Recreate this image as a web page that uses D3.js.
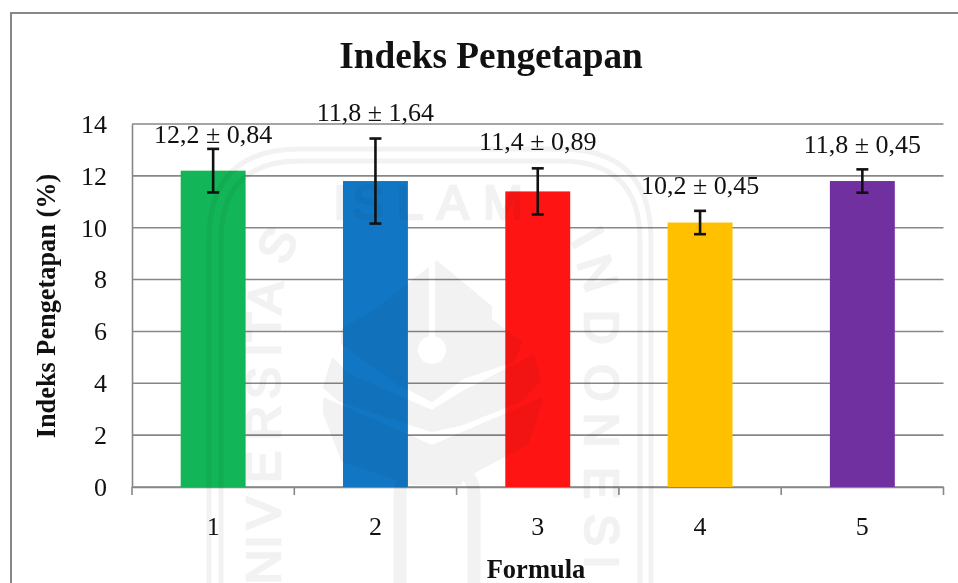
<!DOCTYPE html>
<html>
<head>
<meta charset="utf-8">
<script src="https://cdn.jsdelivr.net/npm/d3@7"></script>
<style>
    html, body { margin: 0; padding: 0; background: #fff; }
    svg { display: block; }
    text { font-family: "Liberation Serif", serif; fill: #111; }
</style>
</head>
<body>
<div id="chart"></div>
<script>
    const categories = ["1", "2", "3", "4", "5"]
    const values = [12.2, 11.8, 11.4, 10.2, 11.8]
    const errors = [0.84, 1.64, 0.89, 0.45, 0.45]
    const barLabels = ["12,2 ± 0,84", "11,8 ± 1,64", "11,4 ± 0,89", "10,2 ± 0,45", "11,8 ± 0,45"]
    const barColors = ["#12b557", "#1177c4", "#ff1414", "#ffc000", "#7030a0"]
    const yTicks = [0, 2, 4, 6, 8, 10, 12, 14]

    // Create SVG
    const outerWidth = 958
    const outerHeight = 583
    const margin = {top: 124, bottom: 96, left: 132, right: 14.5}
    const width = outerWidth - margin.left - margin.right
    const height = outerHeight - margin.top - margin.bottom
    const lineColor = "#878787"

    const svg = d3.select("#chart")
        .append("svg")
        .attr("width", outerWidth)
        .attr("height", outerHeight)

    // Outer frame, only top and left are in the picture
    svg.append("path")
        .attr("d", `M11,${outerHeight}V13H${outerWidth}`)
        .attr("fill", "none")
        .attr("stroke", lineColor)
        .attr("stroke-width", 2)

    const g = svg.append("g")
        .attr("transform", `translate(${margin.left}, ${margin.top})`)

    // Scales
    const x = d3.scaleBand()
        .domain(categories)
        .range([0, width])
        .paddingInner(0.6)
        .paddingOuter(0.3)

    const y = d3.scaleLinear()
        .domain([0, 14])
        .range([height, 0])

    // Gridlines
    g.selectAll(".grid")
        .data(yTicks)
        .enter()
        .append("line")
        .attr("class", "grid")
        .attr("x1", 0)
        .attr("x2", width)
        .attr("y1", d => y(d))
        .attr("y2", d => y(d))
        .attr("stroke", lineColor)
        .attr("stroke-width", 1.6)

    // Y axis
    const yAxis = g.append("g")
        .call(d3.axisLeft(y).tickValues(yTicks).tickSize(0).tickPadding(25))
    yAxis.select(".domain").attr("stroke", lineColor).attr("stroke-width", 1.6)
    yAxis.selectAll("text").attr("font-size", 26).attr("font-family", "Liberation Serif").attr("dy", "0.32em")

    // X axis, ticks sit between the categories
    const xAxis = g.append("g")
        .attr("transform", `translate(0, ${height})`)
        .call(d3.axisBottom(x).tickSize(0).tickPadding(30))
    xAxis.select(".domain").attr("stroke", lineColor).attr("stroke-width", 1.6)
    xAxis.selectAll("text").attr("font-size", 26).attr("font-family", "Liberation Serif")

    g.selectAll(".sep")
        .data(d3.range(categories.length + 1))
        .enter()
        .append("line")
        .attr("class", "sep")
        .attr("x1", i => i * x.step())
        .attr("x2", i => i * x.step())
        .attr("y1", height)
        .attr("y2", height + 8)
        .attr("stroke", lineColor)
        .attr("stroke-width", 1.6)

    // Bars
    g.selectAll(".bar")
        .data(categories)
        .enter()
        .append("rect")
        .attr("class", "bar")
        .attr("x", d => x(d))
        .attr("width", x.bandwidth())
        .attr("y", (d, i) => y(values[i]))
        .attr("height", (d, i) => height - y(values[i]))
        .attr("fill", (d, i) => barColors[i])

    // Error bars
    const capHalf = 6
    const err = g.selectAll(".err")
        .data(categories)
        .enter()
        .append("g")
        .attr("class", "err")
        .attr("stroke", "#111")
        .attr("stroke-width", 2.6)
        .attr("transform", d => `translate(${x(d) + x.bandwidth() / 2}, 0)`)

    err.append("line")
        .attr("y1", (d, i) => y(values[i] + errors[i]))
        .attr("y2", (d, i) => y(values[i] - errors[i]))
    err.append("line")
        .attr("x1", -capHalf).attr("x2", capHalf)
        .attr("y1", (d, i) => y(values[i] + errors[i]))
        .attr("y2", (d, i) => y(values[i] + errors[i]))
    err.append("line")
        .attr("x1", -capHalf).attr("x2", capHalf)
        .attr("y1", (d, i) => y(values[i] - errors[i]))
        .attr("y2", (d, i) => y(values[i] - errors[i]))

    // Bar labels were placed by hand in the original, so the gap differs per bar
    const labelGaps = [6, 18, 18, 17, 16]
    g.selectAll(".bar-label")
        .data(categories)
        .enter()
        .append("text")
        .attr("class", "bar-label")
        .attr("x", d => x(d) + x.bandwidth() / 2)
        .attr("y", (d, i) => y(values[i] + errors[i]) - labelGaps[i])
        .attr("text-anchor", "middle")
        .attr("font-size", 26)
        .text((d, i) => barLabels[i])

    // Titles
    svg.append("text")
        .attr("x", 491)
        .attr("y", 68)
        .attr("text-anchor", "middle")
        .attr("font-size", 37.3)
        .attr("font-weight", "bold")
        .text("Indeks Pengetapan")

    svg.append("text")
        .attr("transform", "translate(55, 306) rotate(-90)")
        .attr("text-anchor", "middle")
        .attr("font-size", 26.3)
        .attr("font-weight", "bold")
        .text("Indeks Pengetapan (%)")

    svg.append("text")
        .attr("x", 536)
        .attr("y", 578)
        .attr("text-anchor", "middle")
        .attr("font-size", 26.5)
        .attr("font-weight", "bold")
        .text("Formula")

    // Faint university watermark over the whole page
    const mark = svg.append("g")
        .style("mix-blend-mode", "multiply")

    const markColor = "#f2f2f2"

    mark.append("path")
        .attr("d", "M209,590V240Q209,149 300,149H560Q651,149 651,240V590")
        .attr("fill", "none")
        .attr("stroke", markColor)
        .attr("stroke-width", 5)
    mark.append("path")
        .attr("d", "M221,590V240Q221,161 300,161H560Q640,161 640,240V590")
        .attr("fill", "none")
        .attr("stroke", markColor)
        .attr("stroke-width", 5)

    // Watermark letters sit one by one round the arch: letter, x, y, angle
    const markLetters = [
        ["N", 263, 567, -90], ["I", 263, 542, -90], ["V", 263, 513, -90], ["E", 263, 467, -90],
        ["R", 263, 423, -90], ["S", 263, 383, -90], ["I", 263, 350, -90], ["T", 263, 327, -90],
        ["A", 265, 297, -85], ["S", 277, 245, -65],
        ["I", 340, 202, 0], ["S", 368, 202, 0], ["L", 410, 202, 0], ["A", 453, 202, 0], ["M", 503, 202, 0],
        ["I", 588, 237, 60], ["N", 598, 273, 72], ["D", 602, 327, 90], ["O", 602, 383, 90],
        ["N", 602, 430, 90], ["E", 602, 483, 90], ["S", 602, 530, 90], ["I", 602, 562, 90]
    ]
    mark.selectAll(".mark-letter")
        .data(markLetters)
        .enter()
        .append("text")
        .attr("class", "mark-letter")
        .attr("transform", d => `translate(${d[1]}, ${d[2]}) rotate(${d[3]})`)
        .attr("text-anchor", "middle")
        .attr("dy", "0.35em")
        .attr("font-size", 48)
        .style("font-family", "'Liberation Sans', sans-serif")
        .style("fill", markColor)
        .style("stroke", markColor)
        .style("stroke-width", 2.5)
        .text(d => d[0])

    const shapes = [
        "M437,263L490,307V320L520,343L513,360L463,377L432,400L407,387L398,383L343,343V330L377,310Z",
        "M333,360L347,375L432,412L463,393L533,357L539,380L520,400L463,423L432,430L340,400L325,387Z",
        "M325,400L432,447L541,400L527,443L463,477L460,483H413L343,460L325,413Z"
    ]
    mark.selectAll(".shape")
        .data(shapes)
        .enter()
        .append("path")
        .attr("class", "shape")
        .attr("d", d => d)
        .attr("fill", markColor)
        .attr("stroke", markColor)
        .attr("stroke-width", 4)
        .attr("stroke-linejoin", "round")

    // Cut-outs in the logo
    mark.append("circle")
        .attr("cx", 432).attr("cy", 350).attr("r", 14)
        .attr("fill", "#fff")
    mark.append("rect")
        .attr("x", 429).attr("y", 263).attr("width", 6).attr("height", 80)
        .attr("fill", "#fff")

    mark.append("path")
        .attr("d", "M400,590V495Q400,472 420,472M474,590V495Q474,472 454,472")
        .attr("fill", "none")
        .attr("stroke", markColor)
        .attr("stroke-width", 13)
</script>
</body>
</html>
